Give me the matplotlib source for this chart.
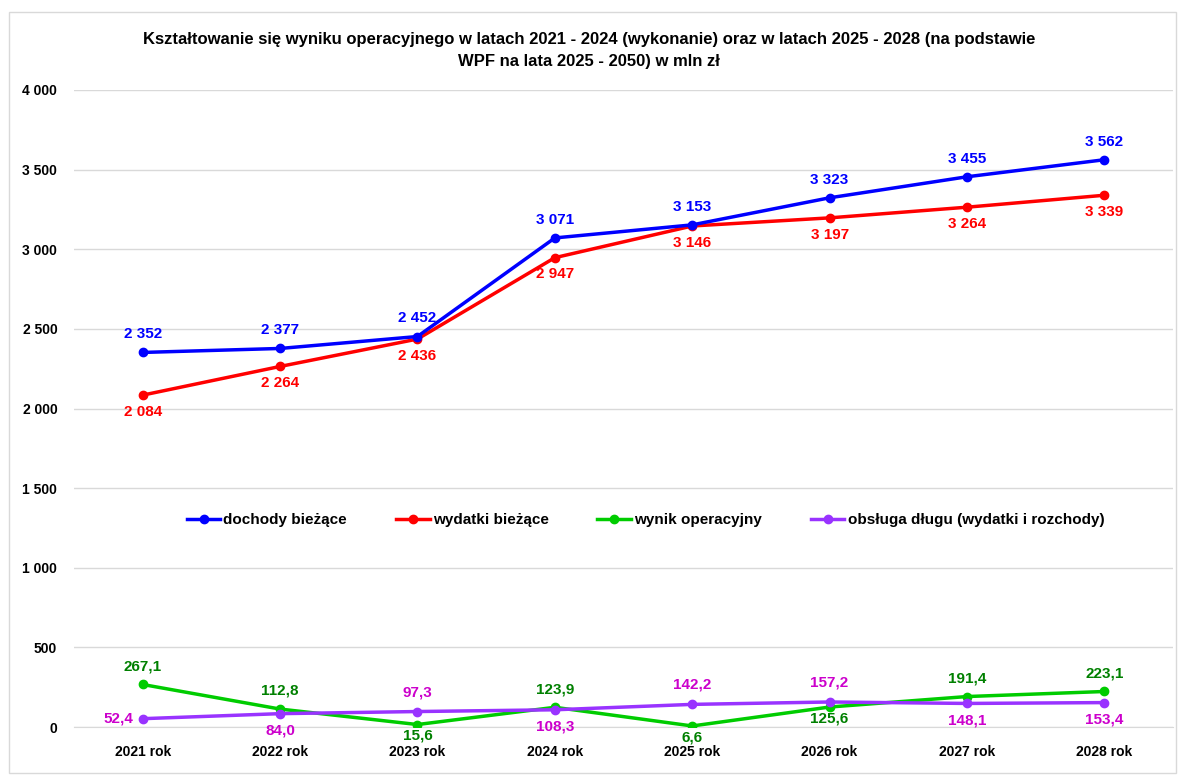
import matplotlib.pyplot as plt
from matplotlib.ticker import FuncFormatter
from matplotlib.patches import Rectangle

# dane (mln zł)
lata = ['2021 rok', '2022 rok', '2023 rok', '2024 rok', '2025 rok', '2026 rok', '2027 rok', '2028 rok']
dochody = [2352, 2377, 2452, 3071, 3153, 3323, 3455, 3562]
wydatki = [2084, 2264, 2436, 2947, 3146, 3197, 3264, 3339]
wynik = [267.1, 112.8, 15.6, 123.9, 6.6, 125.6, 191.4, 223.1]
obsluga = [52.4, 84.0, 97.3, 108.3, 142.2, 157.2, 148.1, 153.4]

# pozycje etykiet: 1 = nad punktem, -1 = pod punktem, 0 = z lewej
poz_wynik = [1, 1, -1, 1, -1, -1, 1, 1]
poz_obsluga = [0, -1, 1, -1, 1, 1, -1, -1]

plt.rcParams['font.family'] = ['Liberation Sans', 'DejaVu Sans']
plt.rcParams['font.weight'] = 'bold'

fig = plt.figure(figsize=(11.78, 7.75), dpi=100)
ax = fig.add_axes([0.0628, 0.0619, 0.933, 0.822])

# ramka wykresu
fig.patches.append(Rectangle((0.008, 0.003), 0.99, 0.982, transform=fig.transFigure,
                             fill=False, edgecolor='#d9d9d9', linewidth=1))

x = list(range(len(lata)))

def pl(v, dec):
    if dec:
        return f'{v:.1f}'.replace('.', ',')
    return f'{int(v):,}'.replace(',', ' ')

ax.plot(x, dochody, color='#0000ff', lw=2.5, marker='o', ms=6, label='dochody bieżące', zorder=4)
ax.plot(x, wydatki, color='#ff0000', lw=2.5, marker='o', ms=6, label='wydatki bieżące', zorder=3)
ax.plot(x, wynik, color='#00cc00', lw=2.5, marker='o', ms=6, label='wynik operacyjny', zorder=3)
ax.plot(x, obsluga, color='#9933ff', lw=2.5, marker='o', ms=6,
        label='obsługa długu (wydatki i rozchody)', zorder=4)

for i, v in enumerate(dochody):
    ax.annotate(pl(v, False), (i, v), xytext=(0, 8), textcoords='offset points',
                ha='center', va='bottom', color='#0000ff', fontsize=11, fontweight='bold')
for i, v in enumerate(wydatki):
    ax.annotate(pl(v, False), (i, v), xytext=(0, -7), textcoords='offset points',
                ha='center', va='top', color='#ff0000', fontsize=11, fontweight='bold')
for i, v in enumerate(wynik):
    if poz_wynik[i] > 0:
        ax.annotate(pl(v, True), (i, v), xytext=(0, 8), textcoords='offset points',
                    ha='center', va='bottom', color='#008000', fontsize=11, fontweight='bold')
    else:
        ax.annotate(pl(v, True), (i, v), xytext=(0, -3), textcoords='offset points',
                    ha='center', va='top', color='#008000', fontsize=11, fontweight='bold')
for i, v in enumerate(obsluga):
    if poz_obsluga[i] > 0:
        ax.annotate(pl(v, True), (i, v), xytext=(0, 9), textcoords='offset points',
                    ha='center', va='bottom', color='#cc00cc', fontsize=11, fontweight='bold')
    elif poz_obsluga[i] < 0:
        ax.annotate(pl(v, True), (i, v), xytext=(0, -7), textcoords='offset points',
                    ha='center', va='top', color='#cc00cc', fontsize=11, fontweight='bold')
    else:
        ax.annotate(pl(v, True), (i, v), xytext=(-7, 0), textcoords='offset points',
                    ha='right', va='center', color='#cc00cc', fontsize=11, fontweight='bold')

ax.set_xlim(-0.5, len(lata) - 0.5)
ax.set_ylim(0, 4000)
ax.set_yticks(range(0, 4001, 500))
ax.yaxis.set_major_formatter(FuncFormatter(lambda v, p: pl(v, False)))
ax.set_xticks(x)
ax.set_xticklabels(lata)
ax.tick_params(axis='both', length=0, labelsize=10)
ax.tick_params(axis='x', pad=13)
ax.tick_params(axis='y', pad=12)
for lab in ax.get_xticklabels() + ax.get_yticklabels():
    lab.set_fontweight('bold')

ax.grid(axis='y', color='#d9d9d9', lw=1)
ax.set_axisbelow(True)
for s in ['top', 'right', 'left']:
    ax.spines[s].set_visible(False)
ax.spines['bottom'].set_color('#d9d9d9')

ax.legend(loc='center', bbox_to_anchor=(0.52, 0.325), ncol=4, frameon=False,
          columnspacing=3.2, handlelength=2.2, handletextpad=0.2,
          prop={'weight': 'bold', 'size': 11})

fig.text(0.5, 0.935, 'Kształtowanie się wyniku operacyjnego w latach 2021 - 2024 (wykonanie) oraz w latach 2025 - 2028 (na podstawie\nWPF na lata 2025 - 2050) w mln zł',
         ha='center', va='center', fontsize=12, fontweight='bold', linespacing=1.6)

fig.savefig('out.png', dpi=100)
